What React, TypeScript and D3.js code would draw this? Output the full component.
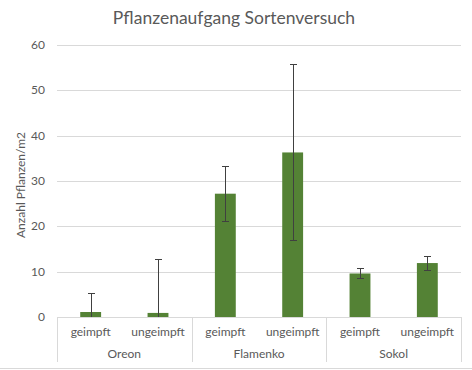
import * as d3 from 'd3';

const GROUPS = ['Oreon', 'Flamenko', 'Sokol'];
const TREATMENTS = ['geimpft', 'ungeimpft'];
// one entry per bar, group-major
const MEANS = [1.1, 0.9, 27.2, 36.3, 9.6, 11.9];
const ERRORS = [4.1, 11.8, 6.1, 19.4, 1.1, 1.5];
const Y_TICKS = [0, 10, 20, 30, 40, 50, 60];

const WIDTH = 472;
const HEIGHT = 370;
const PLOT = { left: 57, right: 461, top: 45, bottom: 317 };
const FONT = 'Lato, "Open Sans", sans-serif';
const TEXT = '#595959';
const GRID = '#d9d9d9';
const BAR = '#548235';

export default function App() {
  const bars = GROUPS.flatMap((g) => TREATMENTS.map((t) => ({ group: g, treatment: t })));

  const x = d3
    .scaleBand<number>()
    .domain(bars.map((_, i) => i))
    .range([PLOT.left, PLOT.right])
    .paddingInner(0.69)
    .paddingOuter(0.345);
  const xGroup = d3.scaleBand<string>().domain(GROUPS).range([PLOT.left, PLOT.right]);
  const y = d3.scaleLinear().domain([0, 60]).range([PLOT.bottom, PLOT.top]);

  const capHalf = 3.5;

  return (
    <div style={{ position: 'absolute', left: 0, top: 0 }}>
      <svg width={WIDTH} height={HEIGHT} style={{ display: 'block', background: '#fff' }}>
        <text
          x={234}
          y={24}
          textAnchor="middle"
          fontFamily={FONT}
          fontSize={17.5}
          fill={TEXT}
        >
          Pflanzenaufgang Sortenversuch
        </text>

        {/* grid + y ticks */}
        {Y_TICKS.map((t) => (
          <g key={t}>
            <line
              x1={PLOT.left}
              x2={PLOT.right}
              y1={Math.round(y(t)) + 0.5}
              y2={Math.round(y(t)) + 0.5}
              stroke={GRID}
            />
            <text
              x={45}
              y={y(t) + 4}
              textAnchor="end"
              fontFamily={FONT}
              fontSize={12}
              fill={TEXT}
            >
              {t}
            </text>
          </g>
        ))}

        <text
          transform={`translate(25, ${(PLOT.top + PLOT.bottom) / 2 + 4}) rotate(-90)`}
          textAnchor="middle"
          fontFamily={FONT}
          fontSize={12}
          fill={TEXT}
        >
          Anzahl Pflanzen/m2
        </text>

        {/* bars */}
        {MEANS.map((v, i) => (
          <rect
            key={i}
            x={x(i)}
            y={y(v)}
            width={x.bandwidth()}
            height={y(0) - y(v)}
            fill={BAR}
          />
        ))}

        {/* error bars */}
        {MEANS.map((v, i) => {
          const cx = Math.round((x(i) ?? 0) + x.bandwidth() / 2) + 0.5;
          const hi = v + ERRORS[i];
          const lo = v - ERRORS[i];
          const yHi = Math.round(y(hi)) + 0.5;
          const yLo = lo < 0 ? y(0) : Math.round(y(lo)) + 0.5;
          return (
            <g key={i} stroke="#404040" strokeWidth={1}>
              <line x1={cx} x2={cx} y1={yHi} y2={yLo} />
              <line x1={cx - capHalf} x2={cx + capHalf} y1={yHi} y2={yHi} />
              {lo >= 0 && <line x1={cx - capHalf} x2={cx + capHalf} y1={yLo} y2={yLo} />}
            </g>
          );
        })}

        {/* category axis */}
        {GROUPS.map((g) => (
          <line
            key={g}
            x1={Math.round(xGroup(g) ?? 0) + 0.5}
            x2={Math.round(xGroup(g) ?? 0) + 0.5}
            y1={PLOT.bottom}
            y2={362}
            stroke={GRID}
          />
        ))}
        <line x1={PLOT.right + 0.5} x2={PLOT.right + 0.5} y1={PLOT.bottom} y2={362} stroke={GRID} />

        {bars.map((b, i) => (
          <text
            key={i}
            x={(x(i) ?? 0) + x.bandwidth() / 2}
            y={336}
            textAnchor="middle"
            fontFamily={FONT}
            fontSize={12}
            fill={TEXT}
          >
            {b.treatment}
          </text>
        ))}
        {GROUPS.map((g) => (
          <text
            key={g}
            x={(xGroup(g) ?? 0) + xGroup.bandwidth() / 2}
            y={358}
            textAnchor="middle"
            fontFamily={FONT}
            fontSize={12}
            fill={TEXT}
          >
            {g}
          </text>
        ))}

        <line x1={0} x2={WIDTH} y1={368.5} y2={368.5} stroke={GRID} />
      </svg>
    </div>
  );
}
